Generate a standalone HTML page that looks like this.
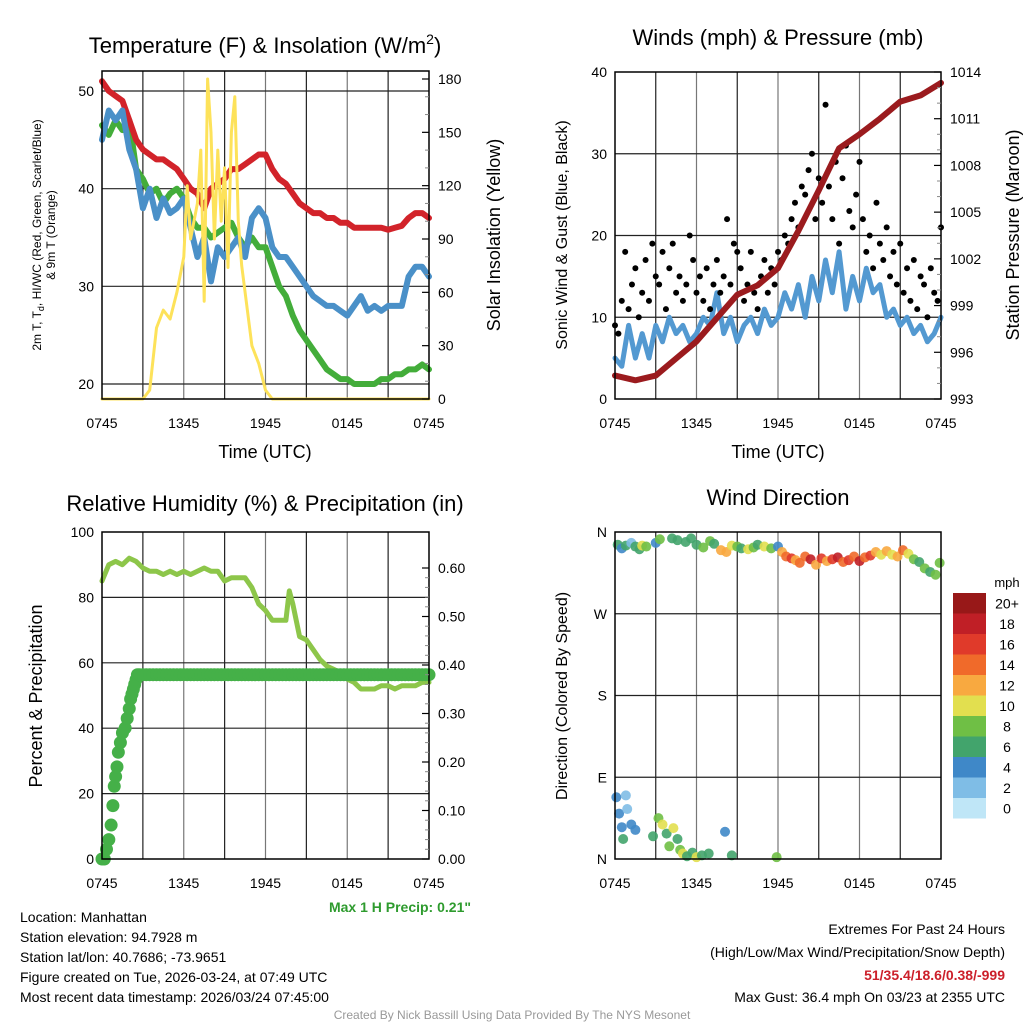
<!DOCTYPE html>
<html><head><meta charset="utf-8"><style>
body{margin:0;background:#fff;width:1024px;height:1024px;overflow:hidden;font-family:"Liberation Sans",sans-serif}
svg{display:block}
</style></head><body>
<svg id="chart" width="1024" height="1024" viewBox="0 0 1024 1024" xmlns="http://www.w3.org/2000/svg" font-family="Liberation Sans, sans-serif">
<text x="265" y="53" font-size="22" text-anchor="middle">Temperature (F) &amp; Insolation (W/m<tspan font-size="14" dy="-9">2</tspan><tspan dy="9">)</tspan></text>
<text x="778" y="45" font-size="22" text-anchor="middle">Winds (mph) &amp; Pressure (mb)</text>
<text x="265" y="511" font-size="22" text-anchor="middle">Relative Humidity (%) &amp; Precipitation (in)</text>
<text x="778" y="505" font-size="22" text-anchor="middle">Wind Direction</text>
<text x="265" y="458" font-size="18" text-anchor="middle">Time (UTC)</text>
<text x="778" y="458" font-size="18" text-anchor="middle">Time (UTC)</text>
<text transform="translate(41,235) rotate(-90)" font-size="12" text-anchor="middle">2m T, T<tspan font-size="9" dy="3">d</tspan><tspan dy="-3">, HI/WC (Red, Green, Scarlet/Blue)</tspan></text>
<text transform="translate(55,235) rotate(-90)" font-size="12" text-anchor="middle">&amp; 9m T (Orange)</text>
<text transform="translate(500,235) rotate(-90)" font-size="18" text-anchor="middle">Solar Insolation (Yellow)</text>
<text transform="translate(567,235) rotate(-90)" font-size="16" text-anchor="middle">Sonic Wind &amp; Gust (Blue, Black)</text>
<text transform="translate(1019,235) rotate(-90)" font-size="18" text-anchor="middle">Station Pressure (Maroon)</text>
<text transform="translate(42,696) rotate(-90)" font-size="18" text-anchor="middle">Percent &amp; Precipitation</text>
<text transform="translate(567,696) rotate(-90)" font-size="16" text-anchor="middle">Direction (Colored By Speed)</text>
<text x="471" y="912" font-size="14" font-weight="bold" fill="#2e9b2e" text-anchor="end">Max 1 H Precip: 0.21"</text>
<g font-size="14">
<text x="20" y="922">Location: Manhattan</text>
<text x="20" y="942">Station elevation: 94.7928 m</text>
<text x="20" y="962">Station lat/lon: 40.7686; -73.9651</text>
<text x="20" y="982">Figure created on Tue, 2026-03-24, at 07:49 UTC</text>
<text x="20" y="1002">Most recent data timestamp: 2026/03/24 07:45:00</text>
</g>
<g font-size="14" text-anchor="end">
<text x="1005" y="934">Extremes For Past 24 Hours</text>
<text x="1005" y="957">(High/Low/Max Wind/Precipitation/Snow Depth)</text>
<text x="1005" y="980" fill="#cc1f2a" font-weight="bold">51/35.4/18.6/0.38/-999</text>
<text x="1005" y="1002">Max Gust: 36.4 mph On 03/23 at 2355 UTC</text>
</g>
<text x="512" y="1019" font-size="12" fill="#999" text-anchor="middle">Created By Nick Bassill Using Data Provided By The NYS Mesonet</text>
<g id="layer"></g>
</svg>
<script>
// ---- data (hours since 0745 UTC) ----
const halfHours=[0,0.5,1,1.5,2,2.5,3,3.5,4,4.5,5,5.5,6,6.5,7,7.5,8,8.5,9,9.5,10,10.5,11,11.5,12,12.5,13,13.5,14,14.5,15,15.5,16,16.5,17,17.5,18,18.5,19,19.5,20,20.5,21,21.5,22,22.5,23,23.5,24];
const tempRed=[51,50,49.5,49,47,45,44,43.5,43,43,42.5,42,41,40,39.5,38,40,40.5,41,42,42,42.5,43,43.5,43.5,42,41,40.5,39.5,38.5,38,37.5,37.5,37,37,36.5,36.5,36,36,36,36,36,35.8,36,36.2,37,37.5,37.5,37];
const tempBlue=[45,48,47,48,44,42,38,40,37,39,37.5,38,39,36,33,35,30.5,34,33,34,35,33,37,38,37,34,33,33,32,31,30,29,28.5,28,28,27.5,27,28,29,27.5,28,27.5,28,28,28,31,32,32,31];
const tempGreen=[46.5,45.5,47,46,47,42,41,39.5,40,38.5,39.5,40,39,37,36,36,35,35.5,36,36.5,35,34,35,34,34,32,30,29,27,25.5,24.5,23.5,22.5,21.5,21,20.5,20.5,20,20,20,20,20.5,20.5,21,21,21.5,21.5,22,21.5];
const solarTimes=[0,3,3.5,4,4.5,5,5.5,6,6.25,6.5,7,7.25,7.5,7.75,8,8.25,8.5,8.75,9,9.25,9.5,9.75,10,10.25,10.5,11,11.5,12,12.5,24];
const solarValues=[0,0,5,40,50,45,60,80,120,90,110,140,55,180,150,90,140,100,130,74,150,170,100,75,60,30,20,5,0,0];
const windSpeed=[5,4,9,5,8,5,9,7,10,8,9,7,8,10,9,13,8,10,7,9,10,8,11,9,10,13,11,14,10,15,12,17,13,18,11,15,12,16,13,14,10,11,9,10,8,9,7,8,10];
const gustValues=[9,8,12,18,11,14,16,10,13,17,12,19,15,14,18,11,16,19,13,15,12,14,20,17,13,15,12,16,11,14,17,13,15,22,14,19,18,16,12,14,18,13,11,15,17,13,16,14,18,17,20,19,22,24,21,26,25,28,30,22,27,24,36,26,22,29,19,27,31,23,21,25,29,22,18,20,16,24,19,17,21,15,18,14,19,13,16,12,17,11,15,14,10,16,13,12,21];
const pressureTimes=[0,1.5,3,4.5,6,7.5,9,10.5,12,13.5,15,16.5,18,19.5,21,22.5,24];
const pressureValues=[994.5,994.2,994.5,995.6,996.7,998.2,999.7,1000.3,1001.4,1003.8,1006.4,1009.1,1010,1011,1012.1,1012.5,1013.3];
const rhTimes=[0,0.5,1,1.5,2,2.5,3,3.5,4,4.5,5,5.5,6,6.5,7,7.5,8,8.5,9,9.5,10,10.5,11,11.5,12,12.5,13,13.5,13.75,14,14.5,15,15.5,16,16.5,17,17.5,18,18.5,19,19.5,20,20.5,21,21.5,22,22.5,23,23.5,24];
const rhValues=[85,90,91,90,92,91,89,88,88,87,88,87,88,87,88,89,88,88,85,86,86,86,83,78,76,73,73,73,82,78,68,67,64,61,59,58,57,55,54,52,52,52,53,53,52,53,53,53,54,54];
const precipTimes=[0,0.17,0.33,0.5,0.67,0.8,0.9,1.0,1.1,1.2,1.35,1.5,1.7,1.85,2.0,2.1,2.2,2.3,2.4,2.5,2.6];
const precipValues=[0,0,0.02,0.04,0.07,0.11,0.15,0.17,0.19,0.22,0.24,0.26,0.27,0.29,0.31,0.33,0.34,0.35,0.36,0.37,0.38];
const precipFinal=0.38;
const dirTimes=[0.2,0.5,0.8,1.2,1.5,1.8,2.0,2.3,3.0,3.3,4.2,4.6,5.2,5.6,6.0,6.5,7.0,7.3,7.8,8.2,8.6,9.0,9.3,9.8,10.2,10.5,11.0,11.5,12.0,12.3,12.6,13.0,13.3,13.6,14.0,14.4,14.8,15.2,15.6,16.0,16.4,16.8,17.2,17.6,18.0,18.4,18.8,19.2,19.6,20.0,20.4,20.8,21.2,21.6,22.0,22.4,22.8,23.2,23.6,23.9,0.1,0.3,0.5,0.8,0.9,1.2,0.6,1.5,2.8,3.2,3.5,3.8,4.0,4.3,4.6,4.8,5.0,5.3,5.7,6.0,6.4,6.9,8.1,8.6,11.9];
const dirValues=[346,342,345,348,344,341,345,344,348,352,353,351,349,353,346,343,350,347,340,338,345,344,342,341,343,346,344,342,344,338,333,331,329,326,333,330,324,331,328,330,332,327,329,333,328,332,334,338,335,339,335,333,340,336,330,327,320,316,313,326,68,50,35,70,55,38,22,32,25,45,38,28,14,34,22,10,6,3,7,2,4,6,30,4,2];
const dirSpeeds=[7,4,7,2,6,7,11,8,5,8,6,6,6,6,7,8,8,6,12,12,10,8,7,10,8,6,10,9,5,13,14,16,13,14,15,18,12,17,13,16,18,14,16,15,19,14,16,12,11,13,10,12,14,10,8,7,8,6,8,8,4,4,4,2,2,4,6,4,6,8,10,6,8,10,6,8,10,6,6,10,6,6,4,6,8];
const tempLeftTicks=[20,30,40,50];
const solarTicks=[0,30,60,90,120,150,180];
const windTicks=[0,10,20,30,40];
const pressureTicks=[993,996,999,1002,1005,1008,1011,1014];
const rhTicks=[0,20,40,60,80,100];
const precipTicks=[0,0.1,0.2,0.3,0.4,0.5,0.6];
const dirTicks=[0,90,180,270,360];
const dirTickLabels=['N','E','S','W','N'];
const timeTickHours=[0,6,12,18,24];
const timeTickLabels=['0745','1345','1945','0145','0745'];
const speedBins=[0,2,4,6,8,10,12,14,16,18,20];
const speedLabels=['0','2','4','6','8','10','12','14','16','18','20+'];
const speedColors=['#bfe6f7','#7fbde6','#3f88c8','#42a46c','#6fbf45','#e2df4f','#f8a940','#f06a2a','#e03a2a','#c01f26','#981818'];

const NS='http://www.w3.org/2000/svg';
const layer=document.getElementById('layer');
function el(tag,attrs,parent){const e=document.createElementNS(NS,tag);for(const k in attrs)e.setAttribute(k,attrs[k]);(parent||layer).appendChild(e);return e;}
function scale(d0,d1,r0,r1){return v=>r0+(v-d0)*(r1-r0)/(d1-d0);}
function txt(x,y,s,size,anchor,parent){const t=el('text',{x:x,y:y,'font-size':size,'text-anchor':anchor},parent);t.textContent=s;return t;}

function makePanel(name,x0,x1,y0,y1,leftTicks,leftLabels,ly){
  const g=el('g',{});
  
  
  const xs=scale(0,24,x0,x1);
  for(let h=3;h<24;h+=3){const l=el('line',{x1:xs(h),x2:xs(h),y1:y0,y2:y1,stroke:(h%6==0)?'#777':'#222','stroke-width':1.2},g);
    }
  leftTicks.forEach((v,i)=>{const y=ly(v);
    if(y>y0+1&&y<y1-1){const l=el('line',{x1:x0,x2:x1,y1:y,y2:y,stroke:'#222','stroke-width':1.2},g);
      }
    const t=txt(x0-8,y+5,leftLabels[i],14,'end',g);
    });
  timeTickHours.forEach((h,i)=>{const t=txt(xs(h),428,timeTickLabels[i],14,'middle',g);
    t.setAttribute('y',y1+29);
    });
  return {g,xs};
}
function frame(x0,x1,y0,y1){const r=el('rect',{x:x0,y:y0,width:x1-x0,height:y1-y0,fill:'none',stroke:'#000','stroke-width':1.5});
  }
function rightAxis(x1,y0,y1,ticks,labels,ry,minor){
  ticks.forEach((v,i)=>{const y=ry(v);
    el('line',{x1:x1-7,x2:x1,y1:y,y2:y,stroke:'#000','stroke-width':1.2});
    const t=txt(x1+9,y+5,labels[i],14,'start');
    
    if(i<ticks.length-1){for(let k=1;k<minor;k++){const ym=y+(ry(ticks[i+1])-y)*k/minor;el('line',{x1:x1-4,x2:x1,y1:ym,y2:ym,stroke:'#888','stroke-width':1});}}
  });
}
function line(xs,ys,times,vals,color,w,name){
  const p=el('polyline',{points:times.map((t,i)=>xs(t).toFixed(1)+','+ys(vals[i]).toFixed(1)).join(' '),fill:'none',stroke:color,'stroke-width':w,'stroke-linejoin':'round','stroke-linecap':'round'});
  
}

// Panel 1
(function(){
  const x0=102,x1=429,y0=71,y1=399;
  const ly=scale(20,50,384,91), ry=scale(0,180,399,79);
  const {xs}=makePanel('temperature-panel',x0,x1,y0,y1,tempLeftTicks,tempLeftTicks.map(String),ly);
  line(xs,ly,halfHours,tempGreen,'#43ad3a',6,'dewpoint-line');
  line(xs,ly,halfHours,tempRed,'#d2232a',6,'temperature-line');
  line(xs,ly,halfHours,tempBlue,'#4a90c8',6,'windchill-line');
  line(xs,ry,solarTimes,solarValues,'#fde25a',3,'solar-insolation-line');
  frame(x0,x1,y0,y1);
  rightAxis(x1,y0,y1,solarTicks,solarTicks.map(String),ry,3);
})();
// Panel 2
(function(){
  const x0=615,x1=941,y0=72,y1=399;
  const ly=scale(0,40,399,72), ry=scale(993,1014,399,72);
  const {xs}=makePanel('wind-panel',x0,x1,y0,y1,windTicks,windTicks.map(String),ly);
  line(xs,ly,halfHours,windSpeed,'#5399d1',5,'wind-speed-line');
  gustValues.forEach((v,i)=>{const c=el('circle',{cx:xs(i*0.25),cy:ly(v),r:3,fill:'#000'});
    });
  line(xs,ry,pressureTimes,pressureValues,'#9b1b1e',6,'pressure-line');
  frame(x0,x1,y0,y1);
  rightAxis(x1,y0,y1,pressureTicks,pressureTicks.map(String),ry,3);
})();
// Panel 3
(function(){
  const x0=102,x1=429,y0=532,y1=859;
  const ly=scale(0,100,859,532), ry=scale(0,0.6,859,568);
  const {xs}=makePanel('humidity-panel',x0,x1,y0,y1,rhTicks,rhTicks.map(String),ly);
  line(xs,ly,rhTimes,rhValues,'#8dc64a',5,'humidity-line');
  const pt=precipTimes.slice(), pv=precipValues.slice();
  for(let t=2.75;t<=24.01;t+=0.25){pt.push(t);pv.push(precipFinal);}
  pt.forEach((t,i)=>{const c=el('circle',{cx:xs(t),cy:ry(pv[i]),r:6.5,fill:'#45b048'});
    });
  frame(x0,x1,y0,y1);
  rightAxis(x1,y0,y1,precipTicks,precipTicks.map(v=>v.toFixed(2)),ry,5);
})();
// Panel 4
(function(){
  const x0=615,x1=941,y0=532,y1=859;
  const ly=scale(0,360,859,532);
  const {xs}=makePanel('direction-panel',x0,x1,y0,y1,dirTicks,dirTickLabels,ly);
  dirTimes.forEach((t,i)=>{let b=0;speedBins.forEach((s,k)=>{if(dirSpeeds[i]>=s)b=k;});
    const c=el('circle',{cx:xs(t),cy:ly(dirValues[i]),r:5,fill:speedColors[b],'fill-opacity':0.9});
    });
  frame(x0,x1,y0,y1);
  const cb=el('g',{});
  
  txt(1007,587,'mph',13,'middle',cb);
  const h=20.5;
  for(let k=0;k<speedColors.length;k++){const yTop=593+(speedColors.length-1-k)*h;
    const r=el('rect',{x:953,y:yTop,width:33,height:h,fill:speedColors[k]},cb);
    
    const l=txt(1007,yTop+h/2+5,speedLabels[k],14,'middle',cb);
    }
})();
</script>
</body></html>
